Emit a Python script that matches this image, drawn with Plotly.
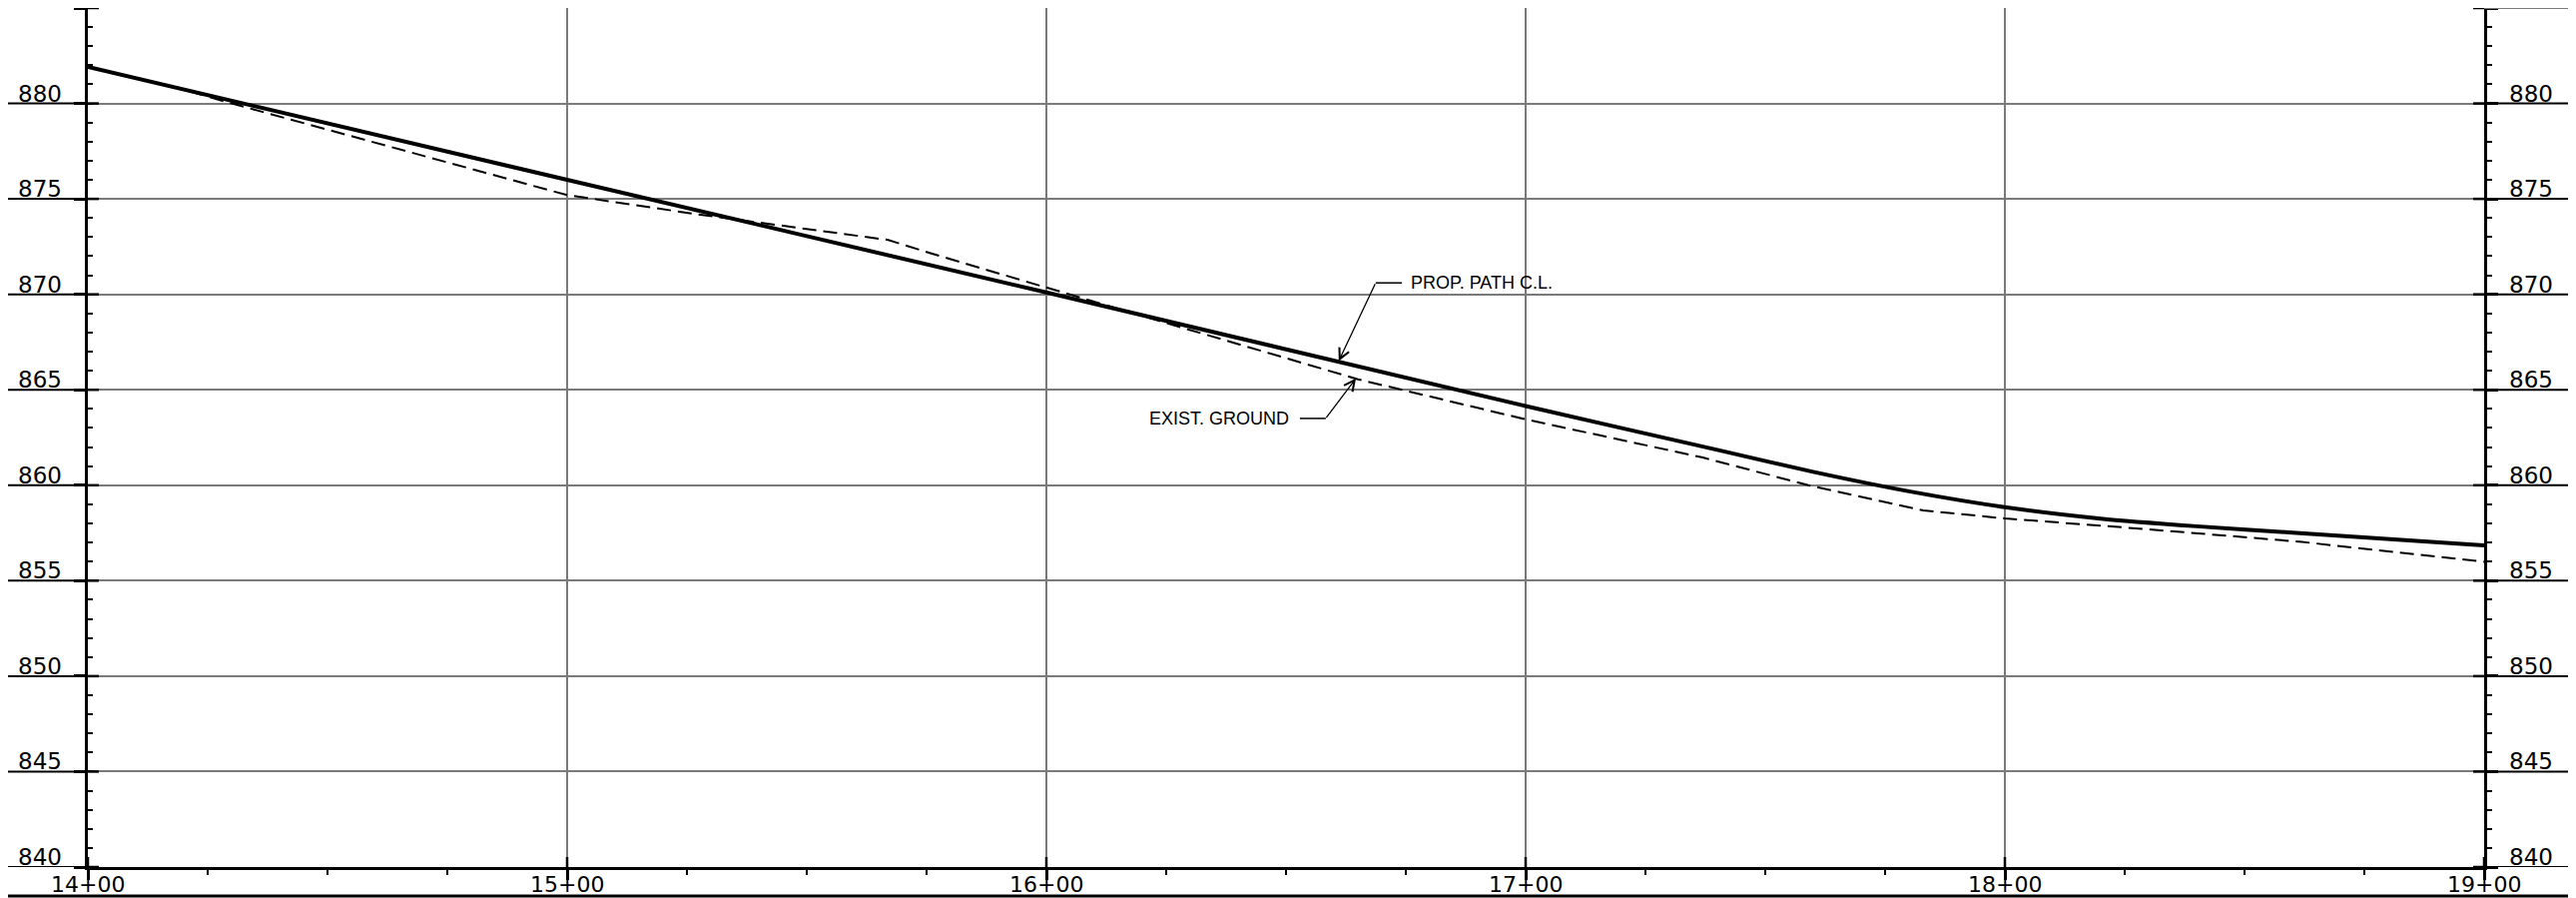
"""Path profile — proposed centreline vs existing ground, CAD sheet style."""

import plotly.graph_objects as go

# ── Data (station in ft, elevation in ft) ─────────────────────────────────────
prop_sta  = [1400, 1500, 1600, 1700, 1740, 1760, 1780, 1800, 1820, 1840, 1860, 1900]
prop_elev = [881.92, 876.0, 870.1, 864.15, 861.85, 860.7, 859.68, 858.85, 858.25,
             857.85, 857.52, 856.85]

exist_sta  = [1400, 1420, 1430, 1500, 1527, 1567, 1576, 1600, 1625, 1665, 1700,
              1737, 1759, 1783, 1800, 1830, 1862, 1900]
exist_elev = [881.92, 880.72, 880.0, 875.2, 874.2, 872.85, 872.14, 870.35, 868.5,
              865.55, 863.45, 861.45, 860.0, 858.68, 858.26, 857.69, 857.03, 855.99]

station_ticks  = [1400, 1500, 1600, 1700, 1800, 1900]
station_labels = ["14+00", "15+00", "16+00", "17+00", "18+00", "19+00"]
elev_ticks  = [840, 845, 850, 855, 860, 865, 870, 875, 880, 885]
elev_labels = ["840", "845", "850", "855", "860", "865", "870", "875", "880", ""]

# ── Theme ─────────────────────────────────────────────────────────────────────
_INK   = "#000000"
_GRID  = "#7a7a7a"
_TICKF = dict(family="DejaVu Sans", size=23, color=_INK)
_NOTEF = dict(family="Liberation Sans", size=18, color=_INK)

# page body has an 8px margin, so the figure is sized to land on the sheet
W, H = 2572, 891
M = dict(l=80, r=92, t=0, b=31)

fig = go.Figure()

fig.add_trace(go.Scatter(
    x=exist_sta, y=exist_elev, mode="lines",
    line=dict(color=_INK, width=2, dash="14px,7px"),
    name="EXIST. GROUND", hoverinfo="skip",
))
fig.add_trace(go.Scatter(
    x=prop_sta, y=prop_elev, mode="lines",
    line=dict(color=_INK, width=4, shape="spline", smoothing=0.6),
    name="PROP. PATH C.L.", hoverinfo="skip",
))
# empty trace so the right-hand elevation axis gets drawn
fig.add_trace(go.Scatter(x=[None], y=[None], yaxis="y2", showlegend=False,
                         hoverinfo="skip"))

_yaxis = dict(
    range=[840, 885], tickmode="array", tickvals=elev_ticks,
    ticks="outside", ticklen=11, tickwidth=2.5, tickcolor=_INK,
    showticklabels=False,
    showline=True, linecolor=_INK, linewidth=3,
    showgrid=True, gridcolor=_GRID, gridwidth=2, zeroline=False,
    fixedrange=True, automargin=False,
)

fig.update_layout(
    width=W, height=H, margin=dict(**M, autoexpand=False),
    paper_bgcolor="white", plot_bgcolor="white", showlegend=False,
    xaxis=dict(
        range=[1400, 1900], tickmode="array", tickvals=station_ticks,
        ticks="outside", ticklen=10, tickwidth=2.5, tickcolor=_INK,
        showticklabels=False,
        minor=dict(dtick=25, ticks="outside", ticklen=5, tickwidth=2,
                   tickcolor=_INK, showgrid=False),
        showline=True, linecolor=_INK, linewidth=3,
        showgrid=True, gridcolor=_GRID, gridwidth=2, zeroline=False,
        fixedrange=True, automargin=False,
    ),
    yaxis={**_yaxis,
           "minor": dict(dtick=1, ticks="inside", ticklen=5, tickwidth=2,
                         tickcolor=_INK, showgrid=False)},
    yaxis2={**_yaxis, "overlaying": "y", "side": "right", "anchor": "x",
            "showgrid": False,
            "minor": dict(dtick=1, ticks="outside", ticklen=5, tickwidth=2,
                          tickcolor=_INK, showgrid=False)},
)

# ── Sheet linework: crossing ticks, label leaders, bottom border ──────────────
shapes = []
for v, lab in zip(elev_ticks, elev_labels):
    for anchor in (0, 1):
        # inner half of the crossing major tick
        shapes.append(dict(type="line", xref="paper", yref="y", xsizemode="pixel",
                           xanchor=anchor, x0=0, x1=11 if anchor == 0 else -11,
                           y0=v, y1=v, line=dict(color=_INK, width=2.5)))
    # leader line under each label, running to the sheet edge
    colour = _INK if lab else _GRID
    if lab:
        shapes.append(dict(type="line", xref="paper", yref="y", xsizemode="pixel",
                           xanchor=0, x0=-M["l"], x1=0, y0=v, y1=v,
                           line=dict(color=colour, width=2)))
    shapes.append(dict(type="line", xref="paper", yref="y", xsizemode="pixel",
                       xanchor=1, x0=0, x1=M["r"], y0=v, y1=v,
                       line=dict(color=colour, width=2)))
for s in station_ticks:
    shapes.append(dict(type="line", xref="x", yref="paper", ysizemode="pixel",
                       yanchor=0, y0=0, y1=10, x0=s, x1=s,
                       line=dict(color=_INK, width=2.5)))
shapes.append(dict(type="line", xref="paper", yref="paper", ysizemode="pixel",
                   xsizemode="pixel", xanchor=0, yanchor=0,
                   x0=-M["l"], x1=W, y0=-29, y1=-29,
                   line=dict(color=_INK, width=3)))

# ── Axis labels (CAD style: sitting on the leader lines) ─────────────────────
for v, lab in zip(elev_ticks, elev_labels):
    if not lab:
        continue
    fig.add_annotation(x=0, y=v, xref="paper", yref="y", text=lab, showarrow=False,
                       xanchor="right", yanchor="middle", xshift=-24, yshift=10,
                       font=_TICKF)
    fig.add_annotation(x=1, y=v, xref="paper", yref="y", text=lab, showarrow=False,
                       xanchor="left", yanchor="middle", xshift=23, yshift=10,
                       font=_TICKF)
for s, lab in zip(station_ticks, station_labels):
    fig.add_annotation(x=s, y=0, xref="x", yref="paper", text=lab, showarrow=False,
                       xanchor="center", yanchor="middle", yshift=-17,
                       font={**_TICKF, "size": 22})

# ── Callouts ──────────────────────────────────────────────────────────────────
prop_tip, prop_elbow, prop_text = (1661, 866.5), (1668.7, 870.6), 1675.6
exist_tip, exist_elbow, exist_text = (1664.6, 865.6), (1658.3, 863.5), 1651.0

shapes.append(dict(type="line", xref="x", yref="y",
                   x0=prop_elbow[0], x1=prop_text - 1.4,
                   y0=prop_elbow[1], y1=prop_elbow[1], line=dict(color=_INK, width=1.5)))
shapes.append(dict(type="line", xref="x", yref="y",
                   x0=exist_text + 1.9, x1=exist_elbow[0],
                   y0=exist_elbow[1], y1=exist_elbow[1], line=dict(color=_INK, width=1.5)))
fig.update_layout(shapes=shapes)

for tip, elbow in ((prop_tip, prop_elbow), (exist_tip, exist_elbow)):
    fig.add_annotation(
        x=tip[0], y=tip[1], ax=elbow[0], ay=elbow[1], axref="x", ayref="y",
        text=" ", font=dict(size=1), borderpad=0,
        showarrow=True, arrowhead=5, arrowsize=1.6, arrowwidth=1.3,
        arrowcolor=_INK, standoff=0, startstandoff=0,
    )
fig.add_annotation(x=prop_text, y=prop_elbow[1], text="PROP. PATH C.L.",
                   showarrow=False, xanchor="left", yanchor="middle", font=_NOTEF)
fig.add_annotation(x=exist_text, y=exist_elbow[1], text="EXIST. GROUND",
                   showarrow=False, xanchor="right", yanchor="middle", font=_NOTEF)

fig.write_html("out.html")
